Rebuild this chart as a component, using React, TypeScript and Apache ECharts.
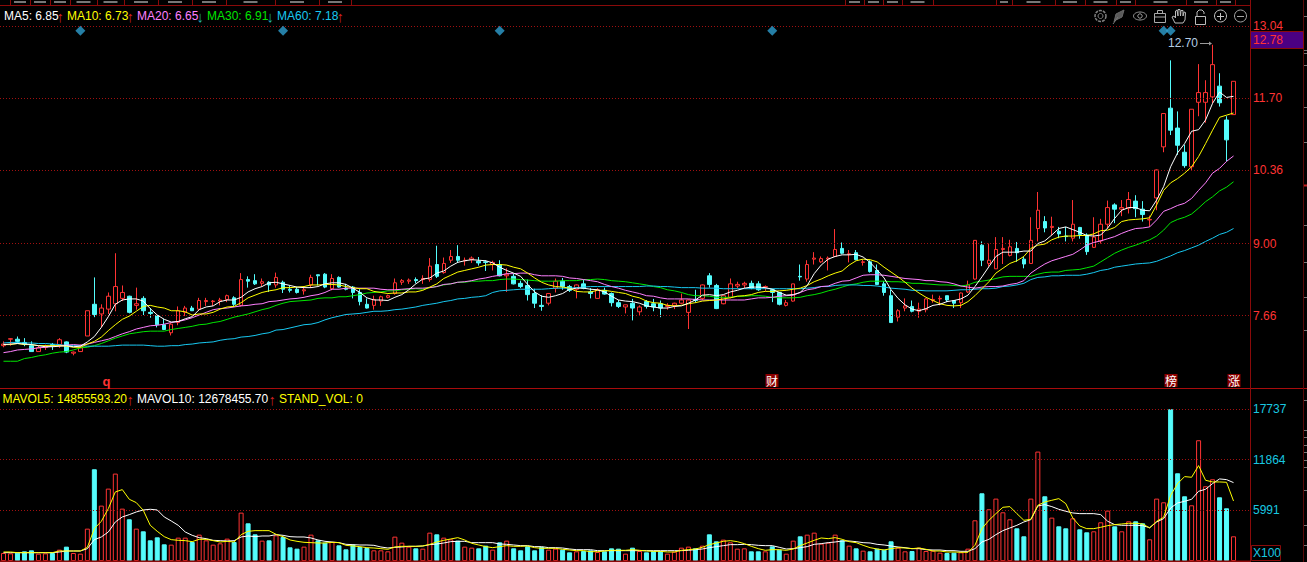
import React, { useEffect, useRef } from "react";
import * as echarts from "echarts";

const opens = [
  7.10,7.22,7.22,7.16,7.10,6.99,7.07,7.12,7.12,7.17,
  6.96,6.99,7.28,7.87,7.69,7.78,7.88,7.98,8.02,7.85,
  7.98,7.72,7.66,7.49,7.34,7.53,7.72,7.80,7.78,7.92,
  7.92,7.93,7.96,7.99,7.85,8.33,8.31,8.26,8.28,8.23,
  8.28,8.15,8.15,8.12,8.23,8.42,8.43,8.16,8.37,8.17,
  8.19,8.09,7.87,7.85,7.93,8.00,8.07,8.28,8.30,8.33,
  8.33,8.33,8.61,8.46,8.69,8.76,8.68,8.70,8.67,8.66,
  8.61,8.61,8.40,8.39,8.26,8.22,8.07,7.85,7.89,8.17,
  8.30,8.20,8.15,8.25,8.10,7.98,8.13,8.07,7.90,7.82,
  7.89,7.73,7.92,7.88,7.88,7.83,7.85,7.89,7.72,7.96,
  7.98,8.40,8.22,7.88,8.00,8.21,8.23,8.26,8.25,8.19,
  8.14,8.09,7.85,7.93,8.39,8.34,8.71,8.66,8.71,8.76,
  8.91,8.80,8.83,8.65,8.66,8.50,8.25,8.03,7.63,7.80,
  7.83,7.74,7.77,7.94,7.97,8.03,7.94,7.90,8.10,8.34,
  8.97,8.63,8.53,8.89,8.78,8.91,8.71,8.63,9.28,9.41,
  9.30,9.23,9.14,9.10,9.30,9.16,8.93,9.05,9.36,9.72,
  9.64,9.66,9.79,9.64,9.44,9.85,10.80,11.52,11.15,10.70,
  10.43,11.63,11.63,11.73,11.93,11.30,11.40,
];
const closes = [
  7.13,7.23,7.18,7.13,6.99,7.06,7.09,7.10,7.21,6.98,
  6.98,7.06,7.75,7.68,7.80,8.02,8.20,8.09,7.72,7.88,
  7.75,7.70,7.49,7.40,7.50,7.75,7.80,7.75,7.94,7.94,
  7.93,7.95,8.03,7.87,8.33,8.30,8.25,8.29,8.23,8.37,
  8.15,8.13,8.09,8.14,8.37,8.40,8.19,8.35,8.19,8.15,
  8.09,7.92,7.80,7.96,8.01,8.03,8.27,8.31,8.32,8.31,
  8.35,8.58,8.39,8.63,8.76,8.69,8.69,8.73,8.64,8.65,
  8.65,8.40,8.43,8.25,8.20,8.05,7.89,7.83,8.07,8.30,
  8.20,8.13,8.23,8.17,8.07,8.14,8.06,7.90,7.83,7.86,
  7.80,7.82,7.83,7.82,7.80,7.85,7.89,7.95,7.95,7.94,
  8.23,8.24,7.79,8.03,8.25,8.24,8.26,8.17,8.14,8.20,
  8.09,7.87,7.90,8.25,8.38,8.61,8.73,8.72,8.73,8.89,
  8.82,8.81,8.70,8.66,8.48,8.24,8.09,7.53,7.75,7.84,
  7.74,7.78,7.97,7.96,7.98,7.95,7.89,8.08,8.23,9.06,
  8.69,8.69,8.89,8.91,8.94,8.83,8.62,9.06,9.62,9.29,
  9.32,9.18,9.13,9.36,9.17,8.85,9.12,9.36,9.67,9.64,
  9.67,9.82,9.65,9.54,9.45,10.37,11.42,11.11,10.83,10.45,
  11.50,11.81,11.81,12.33,11.62,10.93,12.02,
];
const highs = [
  7.18,7.24,7.27,7.24,7.18,7.10,7.12,7.15,7.24,7.18,
  6.99,7.12,7.75,8.37,7.87,8.09,8.82,8.22,8.03,8.18,
  8.02,7.80,7.66,7.60,7.52,7.83,7.84,7.84,7.99,7.99,
  7.95,7.99,8.05,8.02,8.45,8.39,8.43,8.35,8.30,8.46,
  8.31,8.21,8.19,8.20,8.42,8.42,8.45,8.43,8.39,8.25,
  8.21,8.15,7.98,8.03,8.03,8.05,8.35,8.34,8.35,8.37,
  8.41,8.73,8.96,8.74,8.88,8.97,8.74,8.76,8.75,8.69,
  8.68,8.69,8.54,8.44,8.31,8.33,8.16,8.04,8.08,8.35,
  8.36,8.23,8.24,8.33,8.17,8.17,8.18,8.09,7.95,7.86,
  7.97,7.85,7.95,7.97,7.94,7.89,7.90,8.07,7.96,8.14,
  8.24,8.45,8.25,8.03,8.35,8.29,8.29,8.31,8.30,8.22,
  8.16,8.10,7.95,8.25,8.61,8.69,8.84,8.76,8.76,9.27,
  9.02,8.88,8.88,8.70,8.69,8.61,8.30,8.14,7.78,7.98,
  7.94,7.90,7.98,8.05,8.03,8.03,7.95,8.09,8.31,9.06,
  9.04,9.00,9.12,9.12,9.07,9.03,8.76,9.49,9.96,9.51,
  9.50,9.31,9.31,9.81,9.31,9.19,9.49,9.46,9.80,9.75,
  9.81,9.96,9.90,9.79,9.52,10.38,11.42,12.41,11.46,10.84,
  11.50,12.34,12.04,12.70,12.17,11.37,12.02,
];
const lows = [
  7.07,7.10,7.13,7.09,6.99,6.99,7.02,7.02,7.06,6.96,
  6.92,6.99,7.28,7.63,7.44,7.69,7.74,7.93,7.70,7.77,
  7.67,7.62,7.44,7.39,7.29,7.48,7.65,7.75,7.75,7.84,
  7.84,7.85,7.91,7.84,7.83,8.18,8.23,8.21,8.10,8.18,
  8.08,8.09,8.07,8.05,8.18,8.22,8.17,8.13,8.18,8.13,
  7.98,7.85,7.79,7.77,7.84,7.98,8.05,8.23,8.25,8.26,
  8.25,8.29,8.36,8.44,8.64,8.64,8.59,8.64,8.59,8.49,
  8.50,8.39,8.10,8.24,8.17,7.94,7.80,7.75,7.85,8.09,
  8.14,8.10,7.98,8.15,7.98,7.97,8.05,7.83,7.80,7.70,
  7.57,7.67,7.79,7.74,7.63,7.77,7.78,7.87,7.41,7.90,
  7.95,8.18,7.78,7.87,7.98,8.17,8.17,8.15,8.12,8.12,
  7.91,7.85,7.83,7.92,8.31,8.29,8.61,8.64,8.50,8.75,
  8.80,8.65,8.69,8.59,8.46,8.24,8.03,7.53,7.55,7.74,
  7.72,7.62,7.72,7.90,7.85,7.91,7.80,7.80,8.08,8.33,
  8.58,8.57,8.53,8.62,8.76,8.66,8.54,8.63,9.04,9.21,
  9.15,9.10,9.04,9.04,9.09,8.79,8.92,9.00,9.28,9.38,
  9.51,9.56,9.49,9.41,9.31,9.62,10.70,11.02,10.65,10.41,
  10.37,11.37,11.25,11.61,11.55,10.53,11.40,
];

const ma5 = [
  7.12,7.13,7.14,7.13,7.12,7.10,7.08,7.08,7.09,7.10,
  7.08,7.09,7.17,7.27,7.44,7.64,7.87,7.95,7.97,7.97,
  7.93,7.79,7.67,7.59,7.54,7.55,7.60,7.64,7.77,7.82,
  7.84,7.92,7.95,7.95,8.00,8.10,8.16,8.20,8.27,8.28,
  8.25,8.22,8.19,8.18,8.18,8.20,8.25,
  8.27,8.27,8.24,8.17,8.09,7.99,7.95,7.95,7.94,8.00,
  8.05,8.14,8.25,8.34,8.36,8.45,8.49,8.58,8.65,8.68,
  8.70,8.69,8.68,8.64,8.56,8.50,8.45,8.39,8.24,8.10,
  8.02,8.00,8.03,8.07,8.15,8.17,8.17,8.15,8.14,8.10,
  8.02,7.95,7.93,7.92,7.89,7.84,7.82,7.80,
  7.80,7.83,7.84,7.89,7.95,8.04,8.05,8.03,8.05,8.10,
  8.13,8.17,8.19,8.19,8.18,8.15,8.09,8.04,8.05,8.09,
  8.22,8.44,8.60,8.71,8.76,8.79,8.79,8.80,8.75,8.65,
  8.51,8.36,8.14,7.98,7.86,7.78,7.75,7.79,7.85,7.87,
  7.92,7.94,7.97,8.04,8.20,
  8.38,8.57,8.76,8.84,8.84,8.84,8.86,8.86,9.00,9.05,
  9.16,9.28,9.31,9.26,9.21,9.15,9.14,9.16,9.29,9.47,
  9.62,9.67,9.67,9.62,9.61,9.81,10.06,10.43,10.69,10.86,
  11.09,11.12,11.30,11.61,11.82,11.72,11.74,
];
const ma10 = [
  7.12,7.12,7.14,7.12,7.12,7.10,7.10,7.10,7.10,7.09,
  7.07,7.07,7.13,7.18,7.26,7.38,7.49,7.59,7.65,7.74,
  7.83,7.85,7.82,7.80,7.75,7.75,7.73,7.67,7.69,7.69,
  7.72,7.78,7.82,7.83,7.90,7.99,8.04,8.09,8.12,8.14,
  8.18,8.18,8.19,8.20,8.23,8.23,8.24,
  8.24,8.23,8.20,8.18,8.16,8.16,8.11,8.09,8.07,8.08,
  8.08,8.10,8.10,8.13,8.19,8.25,8.35,8.41,8.47,8.50,
  8.53,8.56,8.60,8.61,8.61,8.60,8.56,8.53,8.45,8.36,
  8.28,8.23,8.20,8.19,8.17,8.11,8.10,8.10,8.13,8.13,
  8.11,8.09,8.07,8.02,7.99,7.93,7.90,7.89,
  7.85,7.84,7.85,7.88,7.90,7.93,7.94,7.95,7.97,7.99,
  8.02,8.03,8.05,8.09,8.11,8.11,8.12,8.13,8.15,8.17,
  8.22,8.29,8.34,8.40,8.45,8.49,8.60,8.68,8.71,8.70,
  8.66,8.56,8.47,8.38,8.28,8.17,8.08,8.00,7.94,7.88,
  7.85,7.84,7.85,7.92,8.03,
  8.16,8.29,8.45,8.54,8.63,8.68,8.76,8.91,8.97,8.99,
  9.07,9.12,9.14,9.14,9.15,9.15,9.18,9.24,9.25,9.30,
  9.41,9.44,9.45,9.46,9.48,9.72,9.99,10.13,10.21,10.31,
  10.43,10.62,10.86,11.11,11.35,11.39,11.43,
];
const ma20 = [
  6.97,6.99,7.02,7.03,7.04,7.06,7.07,7.09,7.10,7.11,
  7.12,7.11,7.13,7.16,7.19,7.22,7.27,7.32,7.36,7.41,
  7.44,7.47,7.48,7.50,7.53,7.55,7.58,7.62,7.67,7.72,
  7.77,7.79,7.80,7.82,7.84,7.85,7.87,7.88,7.92,7.93,
  7.95,7.97,7.98,8.00,8.03,8.05,8.09,
  8.15,8.15,8.17,8.17,8.17,8.17,8.17,8.15,8.14,8.14,
  8.15,8.16,8.17,8.17,8.18,8.20,8.24,8.25,8.28,8.29,
  8.31,8.34,8.36,8.39,8.41,8.44,8.44,8.45,8.45,8.42,
  8.40,8.40,8.40,8.39,8.36,8.35,8.33,8.31,8.29,8.24,
  8.20,8.17,8.13,8.10,8.07,8.03,8.02,7.99,
  7.97,7.97,7.97,7.97,7.96,7.95,7.95,7.95,7.95,7.95,
  7.95,7.95,7.97,7.99,7.99,8.00,8.02,8.03,8.04,8.09,
  8.14,8.16,8.20,8.21,8.26,8.30,8.31,8.36,8.41,8.42,
  8.42,8.41,8.39,8.37,8.35,8.34,8.33,8.31,8.31,8.29,
  8.28,8.25,8.21,8.19,8.17,
  8.19,8.20,8.20,8.21,8.24,8.26,8.31,8.45,8.54,8.62,
  8.68,8.72,8.76,8.80,8.88,8.97,9.02,9.05,9.09,9.13,
  9.19,9.24,9.28,9.29,9.31,9.44,9.60,9.65,9.71,9.75,
  9.84,9.99,10.13,10.31,10.40,10.53,10.63,
];
const ma30 = [
  6.81,6.81,6.81,6.86,6.88,6.91,6.93,6.96,6.98,6.99,
  7.02,7.06,7.07,7.10,7.14,7.19,7.24,7.28,7.32,7.34,
  7.36,7.37,7.37,7.37,7.40,7.42,7.44,7.46,7.49,7.50,
  7.53,7.55,7.59,7.63,7.66,7.69,7.73,7.77,7.80,7.85,
  7.89,7.92,7.93,7.94,7.95,7.98,7.99,
  7.99,8.01,8.01,8.03,8.05,8.08,8.09,8.10,8.12,8.12,
  8.14,8.15,8.16,8.15,8.18,8.20,8.23,8.25,8.28,8.28,
  8.30,8.30,8.31,8.31,8.33,8.34,8.34,8.33,8.32,8.31,
  8.30,8.30,8.30,8.31,8.31,8.31,8.33,8.33,8.34,8.33,
  8.31,8.30,8.29,8.27,8.25,8.23,8.20,8.18,
  8.14,8.12,8.09,8.05,8.03,8.03,8.02,8.00,8.00,8.00,
  8.02,8.02,8.03,8.03,8.02,8.00,7.99,7.99,7.99,8.00,
  8.03,8.05,8.08,8.12,8.15,8.19,8.23,8.25,8.28,8.30,
  8.30,8.30,8.29,8.29,8.28,8.26,8.26,8.25,8.24,8.23,
  8.23,8.22,8.21,8.23,8.28,
  8.30,8.32,8.35,8.38,8.39,8.39,8.39,8.39,8.43,8.46,
  8.47,8.47,8.50,8.51,8.52,8.55,8.58,8.66,8.74,8.82,
  8.88,8.93,8.97,9.02,9.07,9.14,9.25,9.39,9.45,9.49,
  9.55,9.66,9.78,9.87,9.98,10.05,10.15,
];
const ma60 = [
  7.15,7.16,7.16,7.15,7.15,7.14,7.14,7.13,7.12,7.10,
  7.10,7.10,7.09,7.09,7.09,7.09,7.10,7.11,7.11,7.11,
  7.11,7.10,7.09,7.09,7.10,7.10,7.12,7.13,7.15,7.16,
  7.17,7.20,7.22,7.23,7.26,7.27,7.29,7.32,7.34,7.39,
  7.40,7.43,7.46,7.49,7.50,7.53,7.58,
  7.62,7.65,7.68,7.69,7.70,7.72,7.74,7.74,7.75,7.77,
  7.78,7.80,7.82,7.85,7.87,7.89,7.92,7.94,7.97,7.98,
  8.00,8.01,8.03,8.09,8.12,8.13,8.14,8.15,8.15,8.15,
  8.15,8.16,8.17,8.17,8.17,8.18,8.19,8.20,8.20,8.20,
  8.20,8.20,8.20,8.20,8.20,8.21,8.21,8.20,
  8.20,8.19,8.18,8.18,8.18,8.17,8.17,8.17,8.16,8.16,
  8.16,8.16,8.16,8.16,8.16,8.16,8.16,8.16,8.16,8.16,
  8.17,8.18,8.20,8.20,8.22,8.23,8.23,8.23,8.22,8.22,
  8.21,8.19,8.17,8.16,8.15,8.13,8.13,8.12,8.12,8.12,
  8.12,8.13,8.14,8.14,8.15,
  8.16,8.16,8.17,8.20,8.21,8.23,8.26,8.33,8.37,8.38,
  8.40,8.40,8.41,8.41,8.41,8.43,8.46,8.50,8.52,8.56,
  8.58,8.60,8.62,8.63,8.64,8.67,8.72,8.77,8.83,8.87,
  8.92,8.97,9.04,9.10,9.17,9.21,9.28,
];

const volumes = [
  936,897,975,1131,1248,858,897,936,1326,1677,
  936,858,3783,10725,6474,8463,10218,6123,4875,3783,
  3471,2418,2769,1950,1911,2730,2730,2223,3081,2418,
  1911,2067,2613,2223,5655,4407,3120,2379,2418,3003,
  2808,1599,1443,1677,3081,2418,2145,2223,1833,1365,
  1911,1638,1521,1248,1248,1131,2847,2145,1677,1482,
  1443,3315,3120,
  2730,2535,2379,1677,1560,1482,1794,1326,2184,2379,
  1482,1248,1716,1248,1638,1326,1443,1326,1014,1131,
  1170,1248,1053,1131,1482,1443,858,1560,1170,1014,
  1170,1170,858,1092,1560,1677,1482,1794,3120,2301,
  2496,2184,1443,1482,1131,1131,1131,1716,1326,858,
  2379,2886,3081,3315,2028,2145,3081,2418,1794,1482,
  1209,1131,1443,
  1326,2301,1560,1131,1170,1560,1170,1209,975,936,
  975,1014,1443,4758,7917,6045,7293,5694,4875,3822,
  2886,7293,12792,7566,5070,4056,3822,4992,3705,3354,
  3471,4524,5889,4056,3471,4641,4641,4407,2535,7293,
  6864,17745,10257,7566,6513,14118,8736,9555,7449,6162,
  2886,
];
const mavol5 = [
  1053,1053,975,975,975,975,975,975,1170,1170,
  1170,1170,1599,3783,4641,6123,8073,8346,7215,6825,
  5928,4173,3471,2847,2496,2418,2379,2262,2535,2535,
  2379,2223,2301,2223,3081,3471,3549,3549,3549,3120,
  2847,2457,2301,2184,2145,2106,2106,2184,2145,1833,
  1755,1677,1560,1521,1443,1365,1638,1716,1716,1716,
  1755,1950,2223,
  2418,2574,2730,2457,2067,1872,1677,1560,1677,1794,
  1716,1716,1755,1560,1482,1482,1482,1365,1287,1209,
  1209,1092,1092,1170,1248,1248,1248,1326,1248,1170,
  1131,1131,1053,1053,1248,1326,1404,1599,1911,2106,
  2301,2379,2262,2028,1716,1443,1248,1326,1326,1248,
  1404,1794,2106,2418,2691,2613,2730,2535,2262,2145,
  1833,1560,1404,
  1287,1443,1560,1521,1443,1521,1365,1170,1170,1053,
  1053,1014,1014,1833,3783,4758,5538,6279,6357,5538,
  4758,4875,6513,6903,7098,7293,6708,5031,4095,3783,
  3783,3939,4134,4251,4329,4407,4407,4329,3861,4641,
  5109,7683,9048,9867,9789,11154,9438,9243,9243,9204,
  7020,
];
const mavol10 = [
  975,975,975,975,975,975,975,975,1053,1170,
  1170,1170,1443,2496,2808,3393,4563,5148,5421,5733,
  5967,6045,5967,5148,4680,4173,3393,3003,2730,2613,
  2418,2379,2340,2379,2808,2925,2847,2925,2925,3081,
  3003,2847,2808,2808,2691,2457,2301,2223,2145,1950,
  1911,1872,1872,1833,1638,1521,1599,1638,1716,1716,
  1755,1911,1989,
  2106,2262,2301,2301,2145,2145,2145,2145,1989,1950,
  1872,1794,1794,1677,1677,1560,1560,1521,1404,1326,
  1326,1326,1209,1209,1209,1209,1209,1209,1209,1209,
  1209,1209,1209,1209,1209,1248,1326,1404,1560,1677,
  1794,1911,1911,1950,1911,1833,1794,1794,1599,1404,
  1443,1560,1677,1950,2028,2145,2223,2340,2340,2262,
  2145,2106,1950,
  1872,1755,1638,1560,1443,1443,1326,1287,1287,1209,
  1209,1131,1131,1443,2223,2535,3081,3549,3861,4173,
  4563,4836,6435,6591,6357,6045,5811,5616,5538,5538,
  5538,5421,4641,4251,4173,4173,4173,4134,3900,4563,
  4953,6201,6786,6981,7215,8151,8385,9048,9594,9516,
  9165,
];

const slotCount = 179;
const categories = Array.from({ length: slotCount }, (_, i) => String(i + 1));
const priceTicks = [7.66, 9.0, 10.36, 11.7, 13.04];
const volumeTicks = [5991, 11864, 17737];
const diamondDays = [11, 40, 71, 110, 166, 167];
const diamondPrice = 12.96;

const RED = "#ff3333";
const CYAN = "#54fcfc";
const FRAME = "#8a0a0a";
const FONT = "'Liberation Sans', Arial, sans-serif";

const candleRows = opens.map((o, i) => [o, closes[i], lows[i], highs[i]]);
const volumeRows = volumes.map((v, i) => {
  const rising = closes[i] >= opens[i];
  return {
    value: v,
    itemStyle: rising
      ? { color: "#000", borderColor: RED, borderWidth: 1 }
      : { color: CYAN, borderColor: CYAN, borderWidth: 1 },
  };
});

const legendTop = [
  { text: "MA5: 6.85", color: "#ffffff", x: 4, arrow: "↑", ax: 56.5 },
  { text: "MA10: 6.73", color: "#ffff00", x: 67, arrow: "↑", ax: 126.5 },
  { text: "MA20: 6.65", color: "#ff80ff", x: 137, arrow: "↓", ax: 196.5 },
  { text: "MA30: 6.91", color: "#00e600", x: 207, arrow: "↓", ax: 266.5 },
  { text: "MA60: 7.18", color: "#18c8f0", x: 277, arrow: "↑", ax: 336.5 },
];
const legendVol = [
  { text: "MAVOL5: 14855593.20", color: "#ffff00", x: 2.5, arrow: "↑", ax: 126.5 },
  { text: "MAVOL10: 12678455.70", color: "#ffffff", x: 137, arrow: "↑", ax: 268.5 },
  { text: "STAND_VOL: 0", color: "#ffff00", x: 279, arrow: "", ax: 0 },
];
const tabMarks = [10, 30, 50, 70, 97, 124, 158, 192, 226, 275, 319, 351, 845, 864, 883, 902, 933, 996, 1012, 1055, 1085, 1116, 1135, 1186, 1216, 1235];
const sideTicks = [16, 50, 53, 65, 107, 142, 225, 262, 297, 330, 400, 430, 437, 445, 452, 460, 467, 490, 525, 545];
const badges = [
  { text: "财", x: 772 },
  { text: "榜", x: 1171 },
  { text: "涨", x: 1234 },
];

const ln = (x1: number, y1: number, x2: number, y2: number, stroke: string, lineWidth = 1) => ({
  type: "line",
  z: 50,
  silent: true,
  shape: { x1, y1, x2, y2 },
  style: { stroke, lineWidth },
});
const tx = (text: string, x: number, y: number, fill: string, extra: any = {}) => ({
  type: "text",
  z: 60,
  silent: true,
  x,
  y,
  style: { text, fill, font: `12px ${FONT}`, verticalAlign: "middle", ...extra },
});

function toolbar() {
  const gray = (c: string) => ({ stroke: c, fill: "none", lineWidth: 1 });
  const e: any[] = [];
  const add = (o: any) => e.push({ z: 60, silent: true, ...o });
  add({ type: "circle", shape: { cx: 1100.5, cy: 16, r: 5.5 }, style: { ...gray("#808080"), lineDash: [3, 1], lineWidth: 1.5 } });
  add({ type: "circle", shape: { cx: 1100.5, cy: 16, r: 2.5 }, style: gray("#808080") });
  add({ type: "polygon", shape: { points: [[1114, 22], [1116, 14], [1124, 10], [1122, 17], [1116, 20]] }, style: { fill: "#5a5a5a", stroke: "#6a6a6a" } });
  add({ type: "line", shape: { x1: 1113, y1: 24, x2: 1118, y2: 17 }, style: gray("#777") });
  add({ type: "ellipse", shape: { cx: 1140, cy: 16, rx: 6.5, ry: 4 }, style: gray("#9a9a9a") });
  add({ type: "circle", shape: { cx: 1140, cy: 16, r: 2.2 }, style: gray("#9a9a9a") });
  add({ type: "rect", shape: { x: 1154.5, y: 13.5, width: 11, height: 9 }, style: gray("#aaaaaa") });
  add({ type: "rect", shape: { x: 1157.5, y: 10.5, width: 5, height: 3 }, style: gray("#aaaaaa") });
  add({ type: "line", shape: { x1: 1154.5, y1: 17, x2: 1165.5, y2: 17 }, style: gray("#aaaaaa") });
  add({
    type: "polyline",
    shape: { points: [[1175, 23], [1172, 17], [1174, 16], [1175.5, 18], [1175.5, 11], [1177, 10], [1178, 16], [1178, 9.5], [1180, 9.5], [1180.5, 16], [1181, 10.5], [1183, 10.5], [1183, 16], [1184, 12], [1185.5, 12.5], [1185, 20], [1183, 23], [1175, 23]] },
    style: gray("#bbbbbb"),
  });
  add({ type: "rect", shape: { x: 1195.5, y: 16.5, width: 10, height: 8 }, style: gray("#bbbbbb") });
  add({ type: "polyline", shape: { points: [[1197, 16], [1197, 12], [1199, 10], [1202, 10], [1204, 12], [1204, 14]] }, style: gray("#bbbbbb") });
  add({ type: "circle", shape: { cx: 1220.5, cy: 16, r: 6 }, style: gray("#c4c4c4") });
  add({ type: "line", shape: { x1: 1217, y1: 16.5, x2: 1224, y2: 16.5 }, style: gray("#c4c4c4") });
  add({ type: "line", shape: { x1: 1220.5, y1: 13, x2: 1220.5, y2: 20 }, style: gray("#c4c4c4") });
  add({ type: "circle", shape: { cx: 1240.5, cy: 16, r: 6 }, style: gray("#a4a4a4") });
  add({ type: "line", shape: { x1: 1237, y1: 16.5, x2: 1244, y2: 16.5 }, style: gray("#a4a4a4") });
  return e;
}

function overlays() {
  const els: any[] = [];
  els.push(ln(0, 5.5, 1250, 5.5, FRAME));
  els.push(ln(0, 388.5, 1307, 388.5, "#a80c0c"));
  els.push(ln(1250.5, 0, 1250.5, 562, FRAME));
  els.push(ln(1303.5, 0, 1303.5, 562, "#5a0808"));
  tabMarks.forEach((x, i) => {
    els.push(ln(x + 0.5, 0, x + 0.5, 5, FRAME));
    if (i < tabMarks.length - 1 && tabMarks[i + 1] - x < 60) {
      const w = Math.min(tabMarks[i + 1] - x - 8, 14);
      els.push({ type: "rect", z: 50, silent: true, shape: { x: x + (tabMarks[i + 1] - x - w) / 2, y: 1, width: w, height: 2 }, style: { fill: "#777" } });
    }
  });
  sideTicks.forEach((y) => els.push(ln(1304, y + 0.5, 1307, y + 0.5, "#777")));
  els.push(ln(1304, 185.5, 1307, 185.5, "#c02020", 2));
  legendTop.forEach((l) => {
    els.push(tx(l.text, l.x, 15.5, l.color));
    els.push(tx(l.arrow, l.ax, 16.5, l.arrow === "↑" ? "#d02020" : "#20b0b0", { font: `15px ${FONT}` }));
  });
  legendVol.forEach((l) => {
    els.push(tx(l.text, l.x, 398.5, l.color));
    if (l.arrow) els.push(tx(l.arrow, l.ax, 399.5, "#d02020", { font: `15px ${FONT}` }));
  });
  els.push({ type: "rect", z: 55, silent: true, shape: { x: 1250.5, y: 31.5, width: 53, height: 17 }, style: { fill: "#4b0082", stroke: FRAME } });
  els.push(tx("12.78", 1253, 40, RED));
  els.push(tx("12.70", 1168, 43, "#b4cce4"));
  els.push(ln(1200, 43.5, 1210, 43.5, "#9a9a9a"));
  els.push({ type: "polygon", z: 60, silent: true, shape: { points: [[1209, 41.5], [1212, 43.5], [1209, 45.5]] }, style: { fill: "#9a9a9a" } });
  els.push(tx("q", 102.5, 381, RED, { font: `bold 13px ${FONT}` }));
  badges.forEach((b) => {
    els.push({ type: "rect", z: 55, silent: true, shape: { x: b.x - 6.5, y: 374, width: 13, height: 13 }, style: { fill: "#8b0000" } });
    els.push(tx(b.text, b.x - 6, 380.5, "#ffffff", { font: "12px 'Noto Sans CJK SC'" }));
  });
  els.push({ type: "rect", z: 55, silent: true, shape: { x: 1251.5, y: 545.5, width: 29, height: 15 }, style: { fill: "#000", stroke: FRAME } });
  els.push(tx("X100", 1253, 553, "#18c8e0"));
  els.push({ type: "rect", z: 55, silent: true, shape: { x: 0, y: 560.5, width: 1250, height: 1.5 }, style: { fill: "#8a0a0a" } });
  return [...els, ...toolbar()];
}

const gridLine = (values: number[]) => ({
  silent: true,
  symbol: "none",
  animation: false,
  label: { show: false },
  lineStyle: { color: "#a01010", type: [1, 2], width: 1 },
  data: values.map((v) => ({ yAxis: v })),
});

const maLine = (name: string, data: number[], color: string, xi = 0) => ({
  name,
  type: "line",
  data,
  xAxisIndex: xi,
  yAxisIndex: xi,
  showSymbol: false,
  symbol: "none",
  smooth: false,
  z: 5,
  lineStyle: { color, width: 1 },
  silent: true,
});

export default function App() {
  const ref = useRef<HTMLDivElement>(null);
  useEffect(() => {
    document.body.style.margin = "0";
    document.body.style.background = "#000";
    const chart = echarts.init(ref.current!, null, { renderer: "svg" });
    chart.setOption({
      animation: false,
      backgroundColor: "#000",
      grid: [
        { left: -2, top: 6, width: 1253, height: 382 },
        { left: -2, top: 390, width: 1253, height: 171 },
      ],
      xAxis: [0, 1].map((gridIndex) => ({
        type: "category",
        gridIndex,
        data: categories,
        boundaryGap: true,
        show: false,
      })),
      yAxis: [
        {
          type: "value",
          gridIndex: 0,
          position: "right",
          min: 6.312,
          max: 13.4215,
          scale: true,
          splitLine: { show: false },
          axisLine: { show: false },
          axisTick: { show: false },
          axisLabel: {
            customValues: priceTicks,
            margin: 2,
            color: RED,
            fontFamily: "Liberation Sans",
            fontSize: 12,
            padding: [2, 0, 0, 0],
            formatter: (v: number) => v.toFixed(2),
          },
        },
        {
          type: "value",
          gridIndex: 1,
          position: "right",
          min: 0,
          max: 19992,
          splitLine: { show: false },
          axisLine: { show: false },
          axisTick: { show: false },
          axisLabel: {
            customValues: volumeTicks,
            margin: 2,
            color: "#18c8e0",
            fontFamily: "Liberation Sans",
            fontSize: 12,
            padding: [2, 0, 0, 0],
            formatter: (v: number) => String(v),
          },
        },
      ],
      series: [
        { type: "line", data: [], xAxisIndex: 0, yAxisIndex: 0, z: 1, silent: true, markLine: gridLine(priceTicks) },
        { type: "line", data: [], xAxisIndex: 1, yAxisIndex: 1, z: 1, silent: true, markLine: gridLine(volumeTicks) },
        {
          name: "K",
          type: "candlestick",
          data: candleRows,
          xAxisIndex: 0,
          yAxisIndex: 0,
          barWidth: 4,
          z: 3,
          silent: true,
          itemStyle: { color: "#000", color0: CYAN, borderColor: RED, borderColor0: CYAN, borderWidth: 1 },
        },
        maLine("MA30", ma30, "#00e600"),
        maLine("MA60", ma60, "#18c8f0"),
        maLine("MA20", ma20, "#ff80ff"),
        maLine("MA10", ma10, "#ffff00"),
        maLine("MA5", ma5, "#ffffff"),
        {
          type: "scatter",
          data: diamondDays.map((d) => [d, diamondPrice]),
          xAxisIndex: 0,
          yAxisIndex: 0,
          symbol: "diamond",
          symbolSize: 10,
          silent: true,
          z: 6,
          itemStyle: { color: "#2e9fd0" },
        },
        {
          name: "VOL",
          type: "bar",
          data: volumeRows,
          xAxisIndex: 1,
          yAxisIndex: 1,
          barWidth: 5,
          z: 3,
          silent: true,
        },
        maLine("MAVOL10", mavol10, "#ffffff", 1),
        maLine("MAVOL5", mavol5, "#ffff00", 1),
      ],
      graphic: overlays(),
    });
    return () => chart.dispose();
  }, []);
  return <div ref={ref} style={{ width: 1307, height: 562, background: "#000" }} />;
}
